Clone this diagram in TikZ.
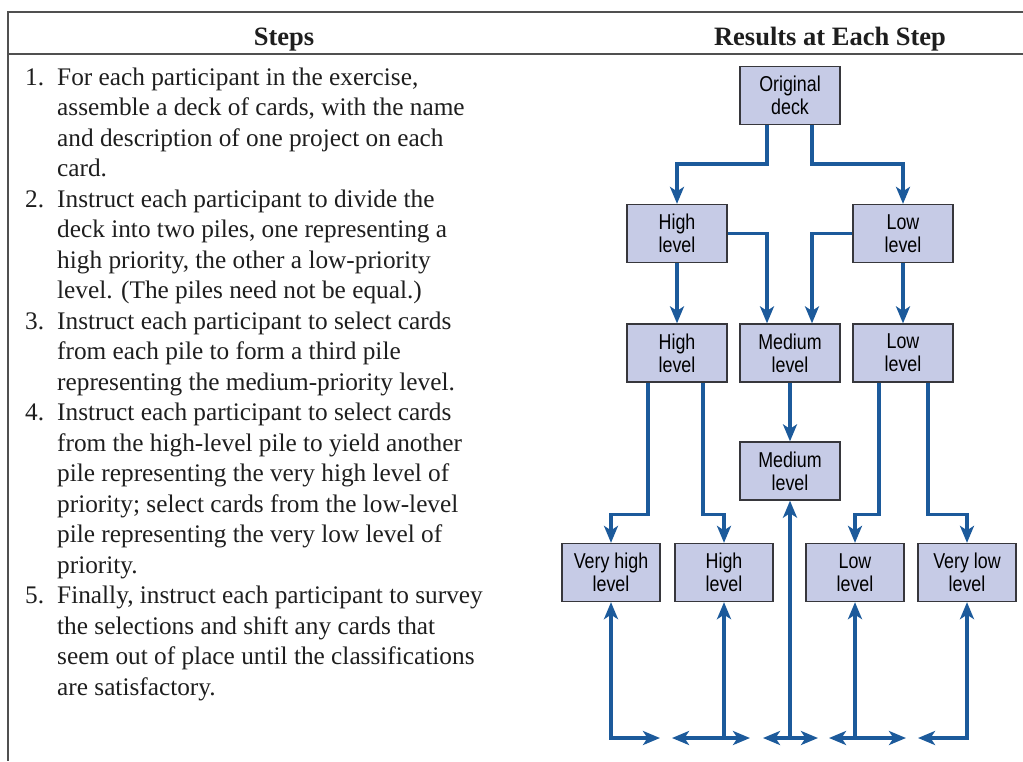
\documentclass[tikz,border=0pt]{standalone}
\usepackage{fontspec}
\setmainfont{Liberation Serif}
\newfontfamily\boxfont[FakeStretch=0.83]{Liberation Sans}
\usetikzlibrary{arrows.meta}

\definecolor{flowblue}{RGB}{28,90,155}
\definecolor{cardfill}{RGB}{198,203,230}
\definecolor{cardedge}{RGB}{55,55,60}
\definecolor{inktext}{RGB}{30,30,30}
\definecolor{rulegray}{RGB}{80,80,80}

\tikzset{
  card/.style={draw=cardedge, fill=cardfill, line width=1.3pt,
    minimum width=100pt, minimum height=58pt, inner sep=0pt, align=center,
    font=\boxfont\fontsize{21.5}{23}\selectfont, text=black},
  smallcard/.style={card, minimum width=98pt},
  tip/.tip={Stealth[length=17pt,width=14pt,inset=4.5pt]},
  flow/.style={draw=flowblue, line width=3.6pt, -tip},
  twoway/.style={flow, tip-tip},
  line/.style={anchor=base west, inner sep=0pt, text=inktext,
    font=\fontsize{25.3}{30.5}\selectfont},
  head/.style={anchor=base, inner sep=0pt, text=inktext,
    font=\bfseries\fontsize{26.5}{30}\selectfont},
  rule/.style={draw=rulegray, line width=1.4pt}
}

\begin{document}
\begin{tikzpicture}[x=1pt, y=-1pt]
  \useasboundingbox (0,0) rectangle (1023,761);

  % table frame
  \draw[rule] (1023,12) -- (8,12) -- (8,761);
  \draw[rule, line width=1.1pt] (8,54) -- (1023,54);

  % column headings
  \node[head] (hsteps) at (284,45) {Steps};
  \node[head] (hres) at (830,45) {Results at Each Step};

  % numbered steps
  \node[line] (n1) at (25,85) {1.};
  \node[line] (s1a) at (57,85) {For each participant in the exercise,};
  \node[line] (s1b) at (57,115.5) {assemble a deck of cards, with the name};
  \node[line] (s1c) at (57,146) {and description of one project on each};
  \node[line] (s1d) at (57,176.5) {card.};
  \node[line] (n2) at (25,207) {2.};
  \node[line] (s2a) at (57,207) {Instruct each participant to divide the};
  \node[line] (s2b) at (57,237.5) {deck into two piles, one representing a};
  \node[line] (s2c) at (57,268) {high priority, the other a low-priority};
  \node[line] (s2d) at (57,298.5) {level. (The piles need not be equal.)};
  \node[line] (n3) at (25,329) {3.};
  \node[line] (s3a) at (57,329) {Instruct each participant to select cards};
  \node[line] (s3b) at (57,359.5) {from each pile to form a third pile};
  \node[line] (s3c) at (57,390) {representing the medium-priority level.};
  \node[line] (n4) at (25,420.5) {4.};
  \node[line] (s4a) at (57,420.5) {Instruct each participant to select cards};
  \node[line] (s4b) at (57,451) {from the high-level pile to yield another};
  \node[line] (s4c) at (57,481.5) {pile representing the very high level of};
  \node[line] (s4d) at (57,512) {priority; select cards from the low-level};
  \node[line] (s4e) at (57,542.5) {pile representing the very low level of};
  \node[line] (s4f) at (57,573) {priority.};
  \node[line] (n5) at (25,603.5) {5.};
  \node[line] (s5a) at (57,603.5) {Finally, instruct each participant to survey};
  \node[line] (s5b) at (57,634) {the selections and shift any cards that};
  \node[line] (s5c) at (57,664.5) {seem out of place until the classifications};
  \node[line] (s5d) at (57,695) {are satisfactory.};

  % piles
  \node[card] (orig) at (790,95.5) {Original\\deck};
  \node[card] (hi2) at (677,233.5) {High\\level};
  \node[card] (lo2) at (903,233.5) {Low\\level};
  \node[card] (hi3) at (677,353) {High\\level};
  \node[card] (me3) at (790,353) {Medium\\level};
  \node[card] (lo3) at (903,353) {Low\\level};
  \node[card] (me4) at (790,471) {Medium\\level};
  \node[smallcard] (vh5) at (611,572.5) {Very high\\level};
  \node[smallcard] (hi5) at (724,572.5) {High\\level};
  \node[smallcard] (lo5) at (855,572.5) {Low\\level};
  \node[smallcard] (vl5) at (967,572.5) {Very low\\level};

  % splitting the deck
  \draw[flow] ([xshift=-23pt]orig.south) -- ++(0,39) -| (hi2.north);
  \draw[flow] ([xshift=22pt]orig.south) -- ++(0,39) -| (lo2.north);
  \draw[flow] (hi2.east) -| ([xshift=-23pt]me3.north);
  \draw[flow] (lo2.west) -| ([xshift=22pt]me3.north);
  \draw[flow] (hi2) -- (hi3);
  \draw[flow] (lo2) -- (lo3);
  \draw[flow] (me3) -- (me4);
  \draw[flow] ([xshift=-29pt]hi3.south) -- ++(0,132) -| (vh5.north);
  \draw[flow] ([xshift=26pt]hi3.south) -- ++(0,132) -| (hi5.north);
  \draw[flow] ([xshift=-24pt]lo3.south) -- ++(0,132) -| (lo5.north);
  \draw[flow] ([xshift=25pt]lo3.south) -- ++(0,132) -| (vl5.north);

  % shifting cards between the final piles
  \coordinate (b1) at (660,738);
  \coordinate (b2) at (672,738);
  \coordinate (b3) at (750,738);
  \coordinate (b4) at (763,738);
  \coordinate (b5) at (818,738);
  \coordinate (b6) at (829,738);
  \coordinate (b7) at (906,738);
  \coordinate (b8) at (918,738);
  \draw[twoway] (b1) -| (vh5.south);
  \draw[twoway] (b2) -- (b3);
  \draw[flow] (hi5.south |- b2) -- (hi5.south);
  \draw[twoway] (b4) -- (b5);
  \draw[flow] (me4.south |- b4) -- (me4.south);
  \draw[twoway] (b6) -- (b7);
  \draw[flow] (lo5.south |- b6) -- (lo5.south);
  \draw[twoway] (b8) -| (vl5.south);
\end{tikzpicture}
\end{document}
